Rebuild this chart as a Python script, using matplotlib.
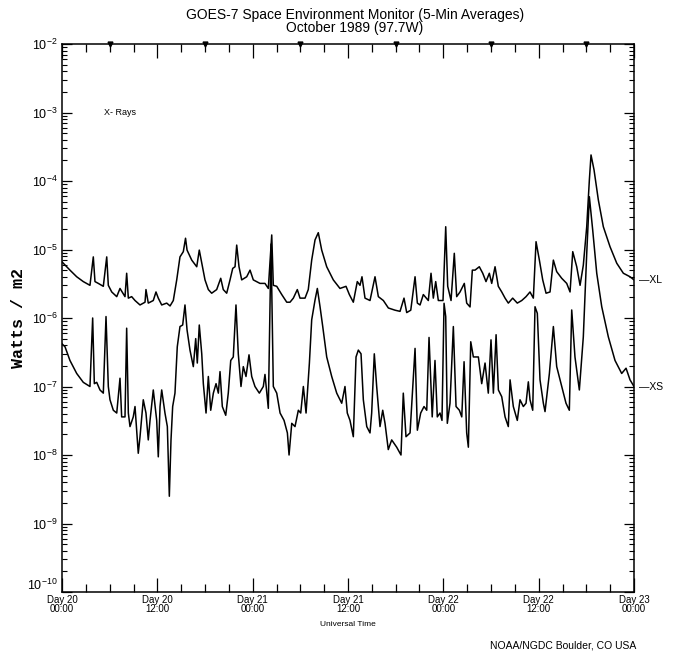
import matplotlib
matplotlib.use("Agg")
import matplotlib.pyplot as plt
from matplotlib.ticker import MultipleLocator, LogLocator, NullFormatter
from matplotlib.transforms import ScaledTranslation

# hours since Day 20 00:00 UT
xl_hours = [
    0, 1.0, 1.85, 2.68, 3.52, 3.94, 4.15, 4.57, 5.2, 5.63,
    5.83, 6.26, 6.89, 7.3, 7.93, 8.14, 8.35, 8.77, 9.19, 9.82,
    10.45, 10.57, 10.86, 11.49, 11.83, 12.12, 12.55, 13.18, 13.6, 14.01,
    14.44, 14.85, 15.27, 15.55, 15.74, 16.33, 16.96, 17.28, 17.59, 18.0,
    18.42, 18.84, 19.47, 19.98, 20.3, 20.73, 21.15, 21.49, 21.78, 21.99,
    22.28, 22.62, 23.25, 23.67, 24.08, 24.92, 25.55, 25.97, 26.4, 26.6,
    27.03, 27.66, 28.29, 28.7, 29.12, 29.62, 29.96, 30.59, 31.0, 31.43,
    31.85, 32.26, 32.69, 33.32, 34.15, 34.99, 35.75, 36.17, 36.67, 37.17,
    37.51, 37.76, 38.14, 38.77, 39.4, 39.82, 40.45, 41.08, 41.92, 42.55,
    43.05, 43.39, 43.9, 44.44, 44.73, 45.07, 45.48, 46.11, 46.45, 46.74,
    47.04, 47.37, 47.96, 48.3, 48.55, 48.97, 49.38, 49.68, 50.1, 50.64,
    50.94, 51.36, 51.65, 51.99, 52.53, 52.96, 53.37, 53.79, 54.09, 54.51,
    54.92, 55.35, 55.77, 56.18, 56.73, 57.31, 57.87, 58.41, 58.91, 59.33,
    59.67, 60.09, 60.51, 60.93, 61.43, 61.85, 62.27, 62.9, 63.53, 63.95,
    64.29, 64.79, 65.21, 65.62, 66.05, 66.38, 66.59, 66.97, 67.51, 68.14,
    68.98, 69.83, 70.66, 71.5, 72,
]
xl_flux = [
    6.6e-6, 5.0e-6, 4.0e-6, 3.4e-6, 3.0e-6, 7.8e-6, 3.4e-6, 3.2e-6, 2.9e-6, 7.8e-6,
    3.0e-6, 2.4e-6, 2.05e-6, 2.7e-6, 2.05e-6, 4.5e-6, 1.95e-6, 2.05e-6, 1.8e-6, 1.55e-6,
    1.7e-6, 2.6e-6, 1.65e-6, 1.8e-6, 2.4e-6, 1.95e-6, 1.55e-6, 1.65e-6, 1.5e-6, 1.8e-6,
    3.6e-6, 7.8e-6, 9.3e-6, 1.46e-5, 9.8e-6, 7.0e-6, 5.6e-6, 9.8e-6, 6.4e-6, 3.6e-6,
    2.6e-6, 2.3e-6, 2.6e-6, 3.8e-6, 2.6e-6, 2.3e-6, 3.6e-6, 5.3e-6, 5.6e-6, 1.16e-5,
    5.6e-6, 3.6e-6, 4.0e-6, 5.0e-6, 3.6e-6, 3.2e-6, 3.2e-6, 2.7e-6, 1.63e-5, 3.0e-6,
    2.9e-6, 2.2e-6, 1.7e-6, 1.7e-6, 1.95e-6, 2.6e-6, 1.95e-6, 1.95e-6, 2.6e-6, 7.0e-6,
    1.38e-5, 1.76e-5, 9.8e-6, 5.6e-6, 3.6e-6, 2.7e-6, 2.9e-6, 2.2e-6, 1.7e-6, 3.4e-6,
    3.0e-6, 4.0e-6, 1.95e-6, 1.8e-6, 4.0e-6, 2.05e-6, 1.8e-6, 1.4e-6, 1.3e-6, 1.25e-6,
    1.95e-6, 1.2e-6, 1.3e-6, 4.0e-6, 1.65e-6, 1.55e-6, 2.2e-6, 1.8e-6, 4.5e-6, 1.95e-6,
    3.4e-6, 1.8e-6, 1.8e-6, 2.15e-5, 2.9e-6, 1.8e-6, 8.8e-6, 2.05e-6, 2.4e-6, 3.2e-6,
    1.65e-6, 1.45e-6, 5.0e-6, 5.0e-6, 5.6e-6, 4.5e-6, 3.4e-6, 4.5e-6, 3.2e-6, 5.6e-6,
    2.9e-6, 2.4e-6, 1.95e-6, 1.65e-6, 1.95e-6, 1.65e-6, 1.8e-6, 2.05e-6, 2.4e-6, 1.95e-6,
    1.3e-5, 7.0e-6, 3.6e-6, 2.3e-6, 2.4e-6, 7.0e-6, 4.75e-6, 3.8e-6, 3.2e-6, 2.4e-6,
    9.3e-6, 5.6e-6, 3.0e-6, 5.9e-6, 2.15e-5, 1.03e-4, 2.4e-4, 1.45e-4, 5.3e-5, 2.15e-5,
    1.1e-5, 6.3e-6, 4.5e-6, 4.0e-6, 3.6e-6,
]

xs_hours = [
    0, 0.38, 1.0, 1.85, 2.68, 3.52, 3.86, 4.07, 4.37, 4.78,
    5.2, 5.54, 5.83, 6.04, 6.46, 6.89, 7.3, 7.51, 7.93, 8.14,
    8.35, 8.56, 8.97, 9.19, 9.6, 9.82, 10.23, 10.57, 10.86, 11.08,
    11.49, 11.92, 12.12, 12.34, 12.55, 12.96, 13.26, 13.51, 13.72, 13.93,
    14.22, 14.51, 14.85, 15.19, 15.48, 15.74, 16.11, 16.53, 16.83, 17.03,
    17.28, 17.59, 17.79, 18.13, 18.42, 18.72, 19.05, 19.39, 19.68, 19.89,
    20.18, 20.61, 20.93, 21.24, 21.56, 21.9, 22.19, 22.53, 22.82, 23.16,
    23.54, 23.88, 24.29, 24.84, 25.34, 25.55, 25.97, 26.31, 26.6, 27.03,
    27.45, 27.95, 28.37, 28.58, 28.92, 29.33, 29.75, 30.05, 30.38, 30.72,
    31.14, 31.43, 31.85, 32.14, 32.48, 32.82, 33.32, 33.95, 34.58, 35.21,
    35.62, 35.91, 36.25, 36.67, 37.01, 37.3, 37.64, 37.93, 38.36, 38.77,
    38.98, 39.31, 39.61, 40.03, 40.37, 40.66, 41.07, 41.5, 42.13, 42.67,
    42.96, 43.3, 43.81, 44.44, 44.73, 45.15, 45.57, 45.91, 46.2, 46.6,
    46.95, 47.24, 47.58, 47.83, 48.09, 48.3, 48.5, 48.84, 49.26, 49.6,
    50.02, 50.32, 50.61, 50.94, 51.15, 51.45, 51.78, 52.41, 52.83, 53.25,
    53.66, 54.0, 54.3, 54.64, 54.93, 55.35, 55.77, 56.18, 56.4, 56.81,
    57.31, 57.65, 58.07, 58.41, 58.7, 58.91, 59.25, 59.54, 59.83, 60.17,
    60.59, 60.8, 61.35, 61.85, 62.27, 62.9, 63.44, 63.86, 64.16, 64.57,
    65.12, 65.62, 66.05, 66.38, 66.8, 67.31, 67.94, 68.77, 69.61, 70.45,
    71.0, 71.5, 72,
]
xs_flux = [
    4.2e-7, 3.8e-7, 2.4e-7, 1.55e-7, 1.15e-7, 1.0e-7, 1.0e-6, 1.1e-7, 1.15e-7, 8.9e-8,
    8.0e-8, 1.05e-6, 1.0e-7, 6.4e-8, 4.5e-8, 4.1e-8, 1.32e-7, 3.6e-8, 3.6e-8, 7.1e-7,
    4.1e-8, 2.6e-8, 3.6e-8, 5.1e-8, 1.06e-8, 1.85e-8, 6.4e-8, 4.1e-8, 1.66e-8, 3.2e-8,
    8.9e-8, 3.2e-8, 9.4e-9, 5.1e-8, 8.9e-8, 4.1e-8, 2.6e-8, 2.5e-9, 1.66e-8, 5.1e-8,
    8.0e-8, 3.8e-7, 7.5e-7, 7.9e-7, 1.55e-6, 6.7e-7, 3.4e-7, 1.95e-7, 5.0e-7, 2.2e-7,
    7.9e-7, 3.0e-7, 1.1e-7, 4.1e-8, 1.4e-7, 4.5e-8, 8.0e-8, 1.1e-7, 8.0e-8, 1.65e-7,
    5.1e-8, 3.8e-8, 8.0e-8, 2.4e-7, 2.7e-7, 1.55e-6, 3.0e-7, 1.0e-7, 1.95e-7, 1.4e-7,
    2.9e-7, 1.4e-7, 1.0e-7, 8.0e-8, 1.0e-7, 1.5e-7, 4.8e-8, 1.2e-5, 1.0e-7, 8.0e-8,
    4.1e-8, 3.2e-8, 2.1e-8, 1.0e-8, 2.9e-8, 2.6e-8, 4.5e-8, 4.1e-8, 1.0e-7, 4.1e-8,
    2.2e-7, 9.4e-7, 1.83e-6, 2.7e-6, 1.46e-6, 7.5e-7, 2.7e-7, 1.4e-7, 8.0e-8, 5.7e-8,
    1.0e-7, 4.1e-8, 3.2e-8, 1.85e-8, 2.7e-7, 3.4e-7, 3.0e-7, 6.4e-8, 2.6e-8, 2.1e-8,
    4.1e-8, 3.0e-7, 1.0e-7, 2.6e-8, 4.5e-8, 2.9e-8, 1.2e-8, 1.66e-8, 1.3e-8, 1.0e-8,
    8.0e-8, 1.85e-8, 2.1e-8, 3.6e-7, 2.3e-8, 4.1e-8, 5.1e-8, 4.5e-8, 5.2e-7, 3.6e-8,
    2.4e-7, 3.6e-8, 4.1e-8, 3.2e-8, 1.64e-6, 1.05e-6, 2.9e-8, 5.7e-8, 7.5e-7, 5.1e-8,
    4.5e-8, 3.6e-8, 2.3e-7, 2.1e-8, 1.3e-8, 4.5e-7, 2.7e-7, 2.7e-7, 1.1e-7, 2.2e-7,
    8.0e-8, 4.8e-7, 8.0e-8, 5.7e-7, 8.9e-8, 7.1e-8, 3.6e-8, 2.6e-8, 1.25e-7, 5.1e-8,
    3.2e-8, 6.4e-8, 5.1e-8, 5.7e-8, 1.17e-7, 6.4e-8, 4.5e-8, 1.46e-6, 1.17e-6, 1.25e-7,
    5.7e-8, 4.3e-8, 1.55e-7, 7.5e-7, 1.95e-7, 1.0e-7, 5.7e-8, 4.5e-8, 1.31e-6, 2.7e-7,
    8.9e-8, 5.3e-7, 8.8e-6, 5.9e-5, 1.93e-5, 4.5e-6, 1.46e-6, 5.3e-7, 2.4e-7, 1.55e-7,
    1.85e-7, 1.25e-7, 1.0e-7,
]

tick_hours = [0, 12, 24, 36, 48, 60, 72]
tick_labels = ["Day 20\n00:00", "Day 20\n12:00", "Day 21\n00:00", "Day 21\n12:00",
               "Day 22\n00:00", "Day 22\n12:00", "Day 23\n00:00"]
decades = [1e-10, 1e-9, 1e-8, 1e-7, 1e-6, 1e-5, 1e-4, 1e-3, 1e-2]
marker_hours = [6, 18, 30, 42, 54, 66]

narrow = ["Liberation Sans Narrow", "Liberation Sans", "DejaVu Sans"]
plt.rcParams["font.family"] = narrow

fig = plt.figure(figsize=(6.76, 6.54), dpi=100)
ax = fig.add_axes([62 / 676, 1 - 592 / 654, 572 / 676, 548 / 654])

ax.plot(xl_hours, xl_flux, color="black", lw=1.1)
ax.plot(xs_hours, xs_flux, color="black", lw=1.1)

ax.set_yscale("log")
ax.set_ylim(1e-10, 1e-2)
ax.set_xlim(0, 72)

ax.set_xticks(tick_hours)
ax.set_xticklabels(tick_labels, fontsize=7, linespacing=0.85)
ax.xaxis.set_minor_locator(MultipleLocator(3))
ax.set_yticks(decades)
ax.yaxis.set_minor_locator(LogLocator(base=10, subs=range(2, 10), numticks=20))
ax.yaxis.set_minor_formatter(NullFormatter())

ax.tick_params(axis="x", which="major", direction="in", length=10, width=0.9,
               top=True, pad=2)
ax.tick_params(axis="x", which="minor", direction="in", length=6, width=0.9, top=True)
ax.tick_params(axis="y", which="major", direction="in", length=7, width=0.9,
               right=True, labelsize=9, pad=3)
ax.tick_params(axis="y", which="minor", direction="in", length=3.5, width=0.8, right=True)
for s in ax.spines.values():
    s.set_linewidth(1.1)

# lift the lowest decade label clear of the day labels
low = ax.yaxis.get_major_ticks()[0].label1
low.set_transform(low.get_transform() + ScaledTranslation(0, 6 / 72, fig.dpi_scale_trans))

# markers along the top edge
ax.plot(marker_hours, [1e-2] * len(marker_hours), "v", color="black", ms=3.5,
        clip_on=False)

ax.text(5.3, 1e-3, "X- Rays", fontsize=6.5, va="center", ha="left")
ax.text(72.6, xl_flux[-1], "\u2014XL", fontsize=7.5, va="center", ha="left",
        clip_on=False)
ax.text(72.6, xs_flux[-1], "\u2014XS", fontsize=7.5, va="center", ha="left",
        clip_on=False)

fig.text(0.525, 0.988, "GOES-7 Space Environment Monitor (5-Min Averages)\nOctober 1989 (97.7W)",
         ha="center", va="top", fontsize=10, linespacing=0.95)
fig.text(0.515, 1 - 625 / 654, "Universal Time", ha="center", va="center", fontsize=6)
fig.text(0.027, 0.514, "Watts / m2", rotation=90, ha="center", va="center",
         fontsize=12, fontweight="bold", family=["Liberation Mono", "DejaVu Sans Mono"])
fig.text(636 / 676, 1 - 646 / 654, "NOAA/NGDC Boulder, CO USA", ha="right",
         va="center", fontsize=7.5)

fig.savefig("out.png", dpi=100)
